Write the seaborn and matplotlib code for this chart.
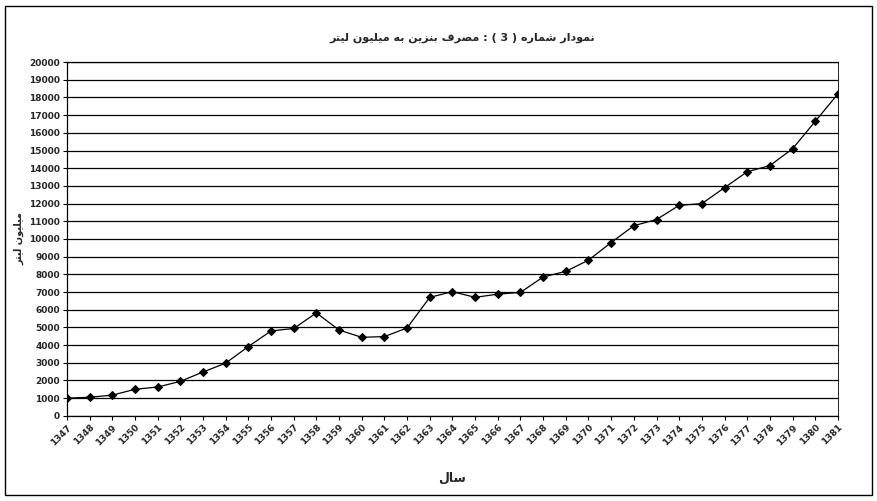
import matplotlib
matplotlib.use('Agg')
import matplotlib.pyplot as plt
import seaborn as sns
import pandas as pd
from matplotlib.patches import Rectangle

years = list(range(1347, 1382))
consumption = [1000, 1050, 1170, 1500, 1630, 1950, 2480, 2980, 3920, 4800,
               4940, 5820, 4850, 4440, 4480, 4970, 6700, 7020, 6700, 6880,
               6980, 7850, 8170, 8800, 9800, 10750, 11100, 11900, 12000, 12900,
               13800, 14150, 15100, 16650, 18200]
y_ticks = list(range(0, 20001, 1000))

title_text = 'نمودار شماره ( 3 ) : مصرف بنزین به میلیون لیتر'
x_text = 'سال'
y_text = 'میلیون لیتر'

# presentation forms: isolated, final, initial, medial (None = no left join)
FORMS = {
    'ا': ('\uFE8D', '\uFE8E', None, None),
    'ب': ('\uFE8F', '\uFE90', '\uFE91', '\uFE92'),
    'ت': ('\uFE95', '\uFE96', '\uFE97', '\uFE98'),
    'د': ('\uFEA9', '\uFEAA', None, None),
    'ر': ('\uFEAD', '\uFEAE', None, None),
    'ز': ('\uFEAF', '\uFEB0', None, None),
    'س': ('\uFEB1', '\uFEB2', '\uFEB3', '\uFEB4'),
    'ش': ('\uFEB5', '\uFEB6', '\uFEB7', '\uFEB8'),
    'ص': ('\uFEB9', '\uFEBA', '\uFEBB', '\uFEBC'),
    'ف': ('\uFED1', '\uFED2', '\uFED3', '\uFED4'),
    'ل': ('\uFEDD', '\uFEDE', '\uFEDF', '\uFEE0'),
    'م': ('\uFEE1', '\uFEE2', '\uFEE3', '\uFEE4'),
    'ن': ('\uFEE5', '\uFEE6', '\uFEE7', '\uFEE8'),
    'ه': ('\uFEE9', '\uFEEA', '\uFEEB', '\uFEEC'),
    'و': ('\uFEED', '\uFEEE', None, None),
    'ی': ('\uFEEF', '\uFEF0', '\uFEF3', '\uFEF4'),
}
MIRROR = {'(': ')', ')': '('}


def shape_word(w):
    if not any(c in FORMS for c in w):
        return ''.join(MIRROR.get(c, c) for c in w)
    out = []
    for i, ch in enumerate(w):
        if ch not in FORMS:
            out.append(ch)
            continue
        prev = w[i - 1] if i > 0 else None
        nxt = w[i + 1] if i + 1 < len(w) else None
        jp = prev in FORMS and FORMS[prev][2] is not None
        jn = nxt in FORMS and FORMS[ch][2] is not None
        iso, fin, ini, med = FORMS[ch]
        if jp and jn:
            out.append(med)
        elif jp:
            out.append(fin)
        elif jn:
            out.append(ini)
        else:
            out.append(iso)
    return ''.join(reversed(out))


def farsi(text):
    # right-to-left: shape each word, then lay the words out right to left
    words = [shape_word(w) for w in text.split(' ')]
    return ' '.join(words[::-1])


df = pd.DataFrame({'year': years, 'value': consumption})

sns.set_style('white')
plt.rcParams['font.family'] = ['DejaVu Sans']

fig = plt.figure(figsize=(8.77, 5.01), dpi=100)
ax = fig.add_axes([0.0764, 0.170, 0.879, 0.706])

sns.lineplot(data=df, x='year', y='value', ax=ax, color='black', linewidth=0.9,
             marker='D', markersize=3.6, markeredgecolor='black', markerfacecolor='black')

ax.set_xlim(years[0], years[-1])
ax.set_ylim(0, 20000)
ax.set_yticks(y_ticks)
ax.set_yticklabels([str(v) for v in y_ticks], fontsize=6.5, fontweight='bold')
ax.set_xticks(years)
ax.set_xticklabels([str(y) for y in years], rotation=45, ha='right',
                   rotation_mode='anchor', fontsize=6.5, fontweight='bold')
ax.tick_params(axis='both', direction='out', length=3, width=0.8, color='black',
               left=True, bottom=True, pad=2)
ax.yaxis.grid(True, color='black', linewidth=0.9)
ax.xaxis.grid(False)
for side in ['top', 'left', 'bottom']:
    ax.spines[side].set_color('black')
    ax.spines[side].set_linewidth(0.9)
ax.spines['right'].set_color('black')
ax.spines['right'].set_linewidth(0.6)
ax.spines['right'].set_linestyle((0, (2, 1)))

ax.set_xlabel(farsi(x_text), fontsize=9, fontweight='bold', labelpad=18)
ax.set_ylabel(farsi(y_text), fontsize=7, fontweight='bold', labelpad=3)
fig.text(0.527, 0.924, farsi(title_text), ha='center', va='center',
         fontsize=8, fontweight='bold')

fig.patches.append(Rectangle((0.006, 0.012), 0.988, 0.976, transform=fig.transFigure,
                             fill=False, edgecolor='black', linewidth=1.0))

fig.savefig('out.png', dpi=100, facecolor='white')
